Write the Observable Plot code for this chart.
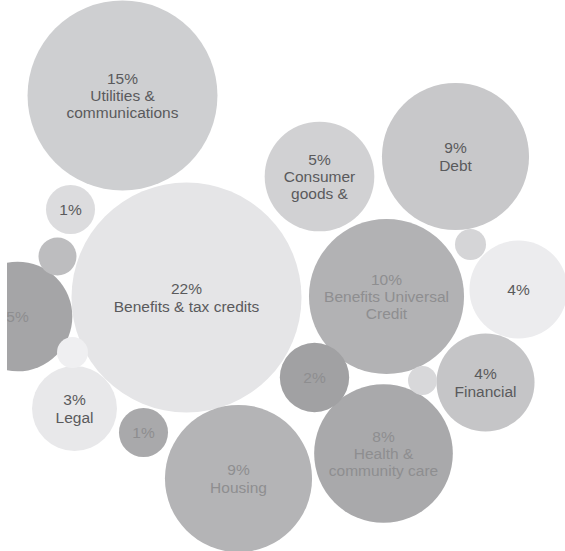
<!DOCTYPE html>
<html>
<head>
<meta charset="utf-8">
<script src="https://cdn.jsdelivr.net/npm/d3@7"></script>
<script src="https://cdn.jsdelivr.net/npm/@observablehq/plot@0.6"></script>
<style>
  html, body { margin: 0; padding: 0; background: #ffffff; }
  #chart svg { display: block; }
</style>
</head>
<body>
<div id="chart"></div>
<script>
// Share of enquiries (%) per category (small unlabeled bubbles are < 1%)
const categories = [
  "Utilities &\ncommunications", "", "", "", "Benefits & tax credits", "",
  "Legal", "", "Housing", "", "Health &\ncommunity care",
  "Benefits Universal\nCredit", "Consumer\ngoods &", "Debt", "", "", "", "Financial"
];
const shares = [15, 1, 0.6, 5, 22, 0.4, 3, 1, 9, 2, 8, 10, 5, 9, 0.4, 4, 0.35, 4];
// bubble layout positions (layout units)
const layoutX = [122, 70, 57, 17, 186, 72, 74, 143, 238, 314, 383, 386, 319, 455, 470, 518, 422, 485];
const layoutY = [95, 209, 256, 316, 297, 352, 408, 432, 478, 377, 453, 296, 176, 156, 244, 289, 380, 382];
// grey tone of each bubble
const tones = [
  "#cecfd1", "#dcdcde", "#bdbdbf", "#a5a5a7", "#e5e5e7", "#efeff1",
  "#e8e8ea", "#a9a9ab", "#b4b4b6", "#a1a1a3", "#a9a9ab",
  "#b2b2b4", "#d1d1d3", "#c8c8ca", "#d5d5d7", "#ececee", "#d8d8da", "#c5c5c7"
];
const darkText = [false, false, false, true, false, false, false, true, true, true, true, true, false, false, false, false, false, false];

const data = shares.map((v, i) => ({
  share: v,
  x: layoutX[i],
  y: layoutY[i],
  tone: tones[i],
  label: v >= 1 ? (v + "%" + (categories[i] ? "\n" + categories[i] : "")) : "",
  ink: darkText[i] ? "#8e8e90" : "#5a5a5c"
}));

const chart = Plot.plot({
  width: 565,
  height: 551,
  marginTop: 0, marginRight: 0, marginBottom: 0, marginLeft: 7,
  style: {background: "#ffffff", fontFamily: "'Liberation Sans', Arial, sans-serif"},
  x: {domain: [7, 565], range: [7, 565], axis: null},
  y: {domain: [0, 551], range: [0, 551], axis: null},
  r: {type: "sqrt", domain: [0, 22], range: [0, 115]},
  color: {type: "identity"},
  marks: [
    Plot.dot(data, {x: "x", y: "y", r: "share", fill: "tone", stroke: null, clip: true}),
    Plot.text(data, {
      x: "x", y: "y", text: "label", fill: "ink",
      fontSize: 15.5, lineHeight: 1.12, textAnchor: "middle", clip: true
    })
  ]
});
document.getElementById("chart").appendChild(chart);
</script>
</body>
</html>
